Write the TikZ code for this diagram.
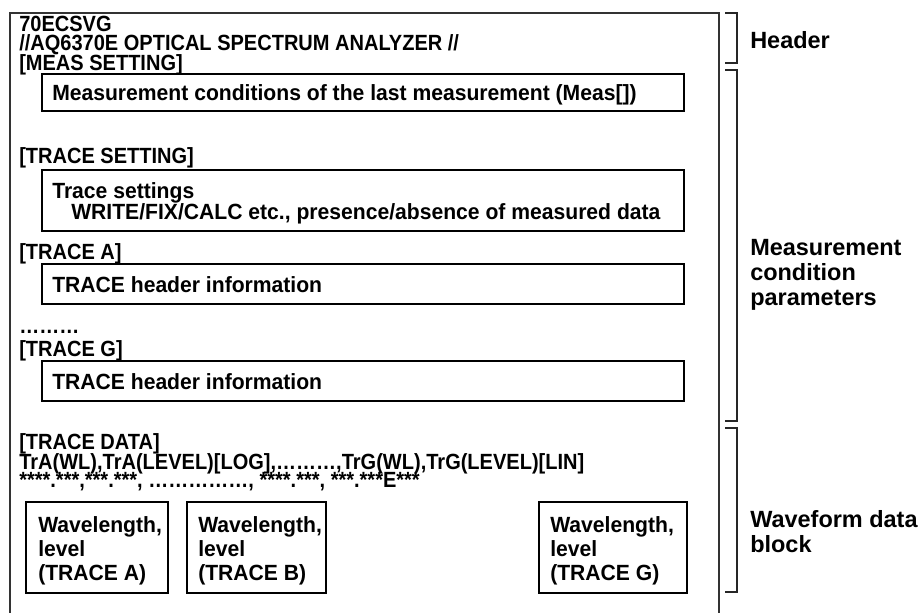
\documentclass[tikz,border=0pt]{standalone}
\usepackage{fontspec}
\setmainfont{Liberation Sans}
\newfontfamily\hdrfont[FakeStretch=0.91]{Liberation Sans}
\newfontfamily\boxfont[FakeStretch=0.96]{Liberation Sans}
\usetikzlibrary{fit,calc}
\begin{document}
\begin{tikzpicture}[x=0.75pt,y=-0.75pt,
  txt/.style={font=\hdrfont\fontsize{16.5}{16.5}\selectfont\bfseries, inner sep=0pt, anchor=base west},
  btxt/.style={font=\boxfont\fontsize{16.5}{16.5}\selectfont\bfseries, inner sep=0pt, anchor=base west},
  side/.style={font=\fontsize{17.6}{18.75}\selectfont\bfseries, inner sep=0pt, anchor=base west},
  box/.style={draw=black, line width=0.8pt, inner sep=0pt},
  frame/.style={draw=black!80, line width=0.9pt},
  brk/.style={draw=black!85, line width=0.8pt}]
\useasboundingbox (0,0) rectangle (922,612);
% outer frame
\draw[frame] (10,616) -- (10,13) -- (719,13) -- (719,616);
% header lines
\node[txt] (l1) at (19,31) {70ECSVG};
\node[txt] (l2) at (19,50.5) {//AQ6370E OPTICAL SPECTRUM ANALYZER //};
\node[txt] (l3) at (19,70) {[MEAS SETTING]};
\node[box, fit={(42,74) (684,111)}] (b1) {};
\node[btxt] (t1) at (52,100) {Measurement conditions of the last measurement (Meas[])};
\node[txt] (l4) at (19,163) {[TRACE SETTING]};
\node[box, fit={(42,170) (684,231)}] (b2) {};
\node[btxt] (t2a) at (52,198) {Trace settings};
\node[btxt] (t2b) at (71,219) {WRITE/FIX/CALC etc., presence/absence of measured data};
\node[txt] (l5) at (19,259) {[TRACE A]};
\node[box, fit={(42,264) (684,304)}] (b3) {};
\node[btxt] (t3) at (52,292) {TRACE header information};
\node[txt] (l6) at (19,333) {………};
\node[txt] (l7) at (19,356) {[TRACE G]};
\node[box, fit={(42,361) (684,401)}] (b4) {};
\node[btxt] (t4) at (52,389) {TRACE header information};
\node[txt] (l8) at (19,449) {[TRACE DATA]};
\node[txt] (l9) at (19,469) {TrA(WL),TrA(LEVEL)[LOG],………,TrG(WL),TrG(LEVEL)[LIN]};
\node[txt] (l10) at (19,487) {****.***,***.***, ……………, ****.***, ***.***E***};
% waveform boxes
\node[box, fit={(26,502) (168,593)}] (wa) {};
\node[box, fit={(187,502) (326,593)}] (wb) {};
\node[box, fit={(539,502) (687,593)}] (wg) {};
\node[btxt] (wa1) at (38,532) {Wavelength,};
\node[btxt] (wa2) at (38,556) {level};
\node[btxt] (wa3) at (38,580) {(TRACE A)};
\node[btxt] (wb1) at (198,532) {Wavelength,};
\node[btxt] (wb2) at (198,556) {level};
\node[btxt] (wb3) at (198,580) {(TRACE B)};
\node[btxt] (wg1) at (550,532) {Wavelength,};
\node[btxt] (wg2) at (550,556) {level};
\node[btxt] (wg3) at (550,580) {(TRACE G)};
% brackets
\draw[brk] (725,13) -- (737,13) -- (737,63) -- (725,63);
\draw[brk] (725,70) -- (737,70) -- (737,421) -- (725,421);
\draw[brk] (725,428) -- (737,428) -- (737,592) -- (725,592);
% side labels
\node[side] (s1) at (750,48) {Header};
\node[side] (s2a) at (750,255) {Measurement};
\node[side] (s2b) at (750,280) {condition};
\node[side] (s2c) at (750,305) {parameters};
\node[side] (s3a) at (750,527) {Waveform data};
\node[side] (s3b) at (750,552) {block};
\end{tikzpicture}
\end{document}
